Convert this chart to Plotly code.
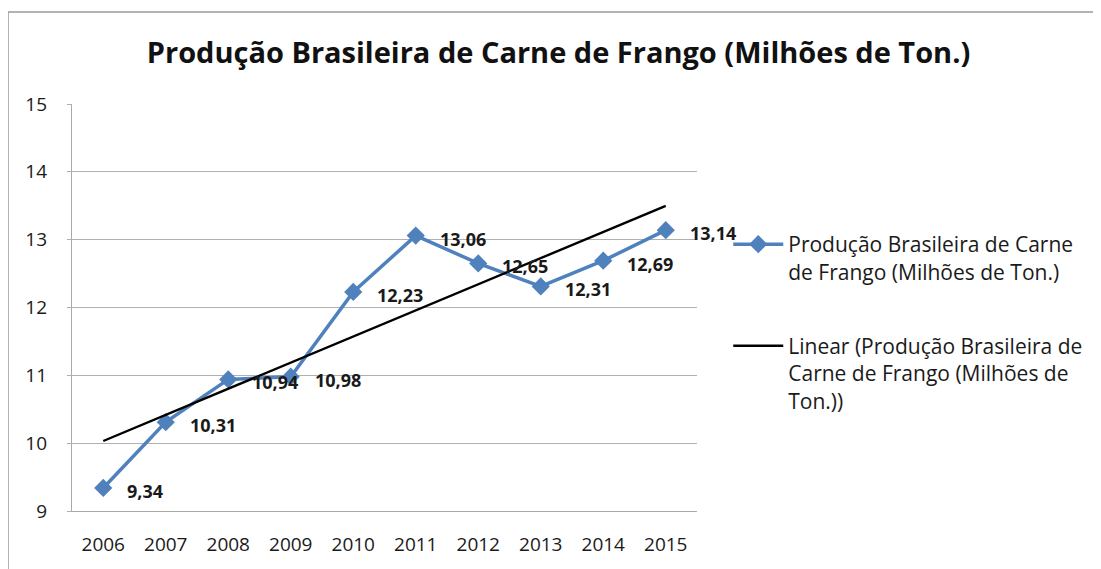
import numpy as np
import plotly.graph_objects as go

# data
anos = ["2006", "2007", "2008", "2009", "2010", "2011", "2012", "2013", "2014", "2015"]
producao = [9.34, 10.31, 10.94, 10.98, 12.23, 13.06, 12.65, 12.31, 12.69, 13.14]
rotulos = ["9,34", "10,31", "10,94", "10,98", "12,23", "13,06", "12,65", "12,31", "12,69", "13,14"]

titulo = "Produção Brasileira de Carne de Frango (Milhões de Ton.)"
nome_serie = "Produção Brasileira de Carne<br>de Frango (Milhões de Ton.)"
nome_tend = "Linear (Produção Brasileira de<br>Carne de Frango (Milhões de<br>Ton.))"

FONT = "Open Sans"
AZUL = "#4F81BD"
TXT = "#1a1a1a"

# linear trendline, same as Excel's
idx = np.arange(len(anos))
a, b = np.polyfit(idx, producao, 1)
tend = a * idx + b

fig = go.Figure()
fig.add_trace(go.Scatter(
    x=anos, y=producao, name=nome_serie, mode="lines+markers",
    legendgroup="serie",
    line=dict(color=AZUL, width=3.5),
    marker=dict(symbol="diamond", size=14, color=AZUL),
))
fig.add_trace(go.Scatter(
    x=anos, y=tend, name=nome_tend, mode="lines",
    legendgroup="tend",
    line=dict(color="black", width=2.4),
))

# data labels to the right of each point
for i, (v, t) in enumerate(zip(producao, rotulos)):
    fig.add_annotation(x=i, y=v, text="<b>%s</b>" % t, showarrow=False,
                       xanchor="left", yanchor="middle", xshift=22, yshift=-3,
                       font=dict(family=FONT, size=18, color=TXT))

fig.update_layout(
    width=1101, height=569,
    margin=dict(l=64, r=412, t=96, b=66),
    paper_bgcolor="white", plot_bgcolor="white",
    font=dict(family=FONT, size=19, color=TXT),
    title=dict(text="<b>%s</b>" % titulo, x=0.5, xanchor="center",
               y=0.922, yanchor="middle",
               font=dict(family=FONT, size=29, color="#111111")),
    showlegend=True,
    legend=dict(x=1.05, xanchor="left", y=0.705, yanchor="top",
                font=dict(family=FONT, size=21, color=TXT),
                tracegroupgap=44, itemwidth=50, valign="top",
                bgcolor="rgba(0,0,0,0)"),
    shapes=[
        dict(type="line", xref="paper", yref="paper", x0=-0.1024, x1=1.7,
             y0=1.226, y1=1.226, line=dict(color="#9a9a9a", width=1.5)),
        dict(type="line", xref="paper", yref="paper", x0=-0.1024, x1=-0.1024,
             y0=1.226, y1=-0.2, line=dict(color="#9a9a9a", width=1.5)),
    ],
)
fig.update_xaxes(
    type="category", range=[-0.5, 9.5], showgrid=False,
    showline=True, linecolor="#aaaaaa", linewidth=1.2,
    ticks="", tickfont=dict(family=FONT, size=19), ticklabelstandoff=16,
)
fig.update_yaxes(
    range=[9, 15], dtick=1, showgrid=True, gridcolor="#b0b0b0", gridwidth=1.2,
    showline=True, linecolor="#aaaaaa", linewidth=1.2, zeroline=False,
    ticks="outside", ticklen=4, tickcolor="#b0b0b0",
    tickfont=dict(family=FONT, size=19), ticklabelstandoff=16,
)

fig.write_html("out.html")
